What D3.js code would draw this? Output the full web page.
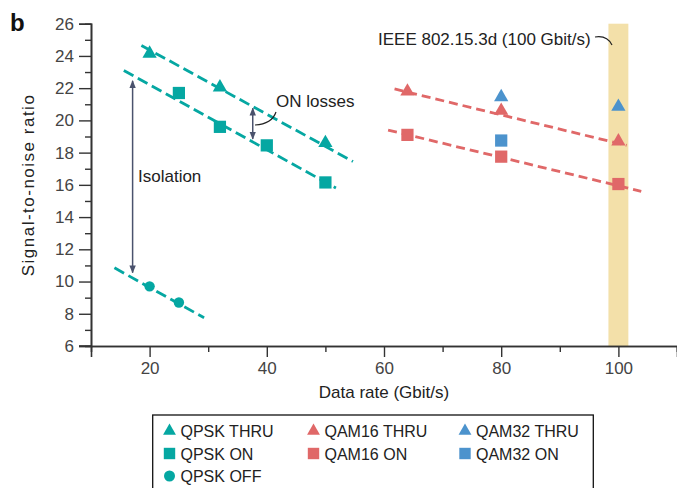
<!DOCTYPE html>
<html>
<head>
<meta charset="utf-8">
<script src="https://cdn.jsdelivr.net/npm/d3@7"></script>
<style>
  body { margin: 0; background: #fff; }
  svg { font-family: "Liberation Sans", Arial, sans-serif; }
</style>
</head>
<body>
<div id="chart"></div>
<script>
// measured values (Gbit/s, SNR)
var qpskThru = [[20, 24.15], [32, 22.05], [50, 18.6]];
var qpskOn = [[25, 21.7], [32, 19.6], [40, 18.45], [50, 16.15]];
var qpskOff = [[20, 9.7], [25, 8.7]];
var qam16Thru = [[64, 21.8], [80, 20.6], [100, 18.7]];
var qam16On = [[64, 19.1], [80, 17.75], [100, 16.05]];
var qam32Thru = [[80, 21.45], [100, 20.85]];
var qam32On = [[80, 18.75]];

// dashed trend lines, start and end
var qpskThruFit = [[18.6, 24.65], [54.7, 17.45]];
var qpskOnFit = [[15.6, 23.1], [51.8, 15.8]];
var qpskOffFit = [[14.0, 10.85], [29.3, 7.75]];
var qam16ThruFit = [[61.8, 21.95], [101.4, 18.45]];
var qam16OnFit = [[60.7, 19.4], [103.9, 15.6]];

var xTicks = [20, 40, 60, 80, 100];
var xMinor = [30, 50, 70, 90, 110];
var yTicks = [6, 8, 10, 12, 14, 16, 18, 20, 22, 24, 26];
var yMinor = [7, 9, 11, 13, 15, 17, 19, 21, 23, 25];

var band = [98.3, 101.7];
var isolation = [17.1, 22.45, 10.55];
var onLosses = [37.6, 20.75, 18.85];

var teal = "#05a7a2", red = "#e06868", blue = "#4c93cd";
var arrowCol = "#4a526d", axisCol = "#333";

var W = 677, H = 488;
var svg = d3.select("#chart").append("svg").attr("width", W).attr("height", H);

var x = d3.scaleLinear().domain([10, 110]).range([91, 677]);
var y = d3.scaleLinear().domain([6, 26]).range([346, 23.7]);

// highlight band for IEEE 802.15.3d
svg.append("rect")
  .attr("x", x(band[0])).attr("width", x(band[1]) - x(band[0]))
  .attr("y", y(26)).attr("height", y(6) - y(26))
  .attr("fill", "#f3e0a9");

// axes
var yAxis = d3.axisLeft(y).tickValues(yTicks).tickSize(12).tickPadding(5).tickFormat(d3.format("d"));
var gy = svg.append("g").attr("transform", "translate(91,0)").call(yAxis);
svg.append("g").attr("transform", "translate(91,0)")
  .call(d3.axisLeft(y).tickValues(yMinor).tickSize(6).tickFormat(""));

var xAxis = d3.axisBottom(x).tickValues(xTicks).tickSize(11).tickPadding(5).tickFormat(d3.format("d"));
var gx = svg.append("g").attr("transform", "translate(0,346)").call(xAxis);
svg.append("g").attr("transform", "translate(0,346)")
  .call(d3.axisBottom(x).tickValues(xMinor).tickSize(6).tickFormat(""));

svg.selectAll(".domain").attr("stroke", axisCol).attr("stroke-width", 1.6);
svg.selectAll(".tick line").attr("stroke", axisCol).attr("stroke-width", 1.4);
svg.selectAll(".tick text").attr("fill", "#444").style("font-size", "17px")
  .style("font-family", "'Liberation Sans', Arial, sans-serif");
// x axis line reaches over to the y tick at 6
svg.append("line").attr("x1", 79).attr("x2", 91).attr("y1", 346).attr("y2", 346)
  .attr("stroke", axisCol).attr("stroke-width", 1.6);

svg.append("text")
  .attr("transform", "translate(34,185) rotate(-90)")
  .attr("text-anchor", "middle")
  .attr("font-size", 17).attr("letter-spacing", 1.5).attr("fill", "#222")
  .text("Signal-to-noise ratio");
svg.append("text")
  .attr("x", 384).attr("y", 398).attr("text-anchor", "middle")
  .attr("font-size", 17).attr("fill", "#222")
  .text("Data rate (Gbit/s)");

svg.append("text").attr("x", 10).attr("y", 31)
  .attr("font-size", 24).attr("font-weight", "bold").attr("fill", "#111")
  .text("b");

// dashed fit lines
var line = d3.line().x(function (d) { return x(d[0]); }).y(function (d) { return y(d[1]); });
[qpskThruFit, qpskOnFit, qpskOffFit].forEach(function (f) {
  svg.append("path").attr("d", line(f)).attr("fill", "none")
    .attr("stroke", teal).attr("stroke-width", 2.8).attr("stroke-dasharray", "11,5");
});
[qam16ThruFit, qam16OnFit].forEach(function (f) {
  svg.append("path").attr("d", line(f)).attr("fill", "none")
    .attr("stroke", red).attr("stroke-width", 2.8).attr("stroke-dasharray", "9,5");
});

// markers
var triSym = d3.symbol().type(d3.symbolTriangle).size(88);
var sqSym = d3.symbol().type(d3.symbolSquare).size(150);
var cirSym = d3.symbol().type(d3.symbolCircle).size(85);

function markers(data, sym, col) {
  svg.append("g").selectAll("path").data(data).join("path")
    .attr("transform", function (d) { return "translate(" + x(d[0]) + "," + y(d[1]) + ")"; })
    .attr("d", sym).attr("fill", col);
}
markers(qpskThru, triSym, teal);
markers(qpskOn, sqSym, teal);
markers(qpskOff, cirSym, teal);
markers(qam16Thru, triSym, red);
markers(qam16On, sqSym, red);
markers(qam32Thru, triSym, blue);
markers(qam32On, sqSym, blue);

// double headed arrows
svg.append("defs").append("marker")
  .attr("id", "head").attr("viewBox", "0 0 10 10").attr("refX", 9).attr("refY", 5)
  .attr("markerWidth", 8).attr("markerHeight", 8).attr("markerUnits", "userSpaceOnUse")
  .attr("orient", "auto-start-reverse")
  .append("path").attr("d", "M0,1 L10,5 L0,9 Z").attr("fill", arrowCol);

[isolation, onLosses].forEach(function (a) {
  svg.append("line")
    .attr("x1", x(a[0])).attr("x2", x(a[0]))
    .attr("y1", y(a[1])).attr("y2", y(a[2]))
    .attr("stroke", arrowCol).attr("stroke-width", 1.5)
    .attr("marker-start", "url(#head)").attr("marker-end", "url(#head)");
});

// annotations
svg.append("text").attr("x", 138).attr("y", 182).attr("font-size", 17).attr("fill", "#222").text("Isolation");
svg.append("text").attr("x", 276).attr("y", 107).attr("font-size", 17).attr("fill", "#222").text("ON losses");
svg.append("path").attr("d", "M255,125 Q272,124 276,112")
  .attr("fill", "none").attr("stroke", "#222").attr("stroke-width", 1.2);

svg.append("text").attr("x", 378).attr("y", 45).attr("font-size", 17).attr("fill", "#222")
  .text("IEEE 802.15.3d (100 Gbit/s)");
svg.append("path").attr("d", "M595,37 Q607,35 612,45")
  .attr("fill", "none").attr("stroke", "#222").attr("stroke-width", 1.2);

// legend
var legendItems = [
  ["QPSK THRU", "tri", teal], ["QAM16 THRU", "tri", red], ["QAM32 THRU", "tri", blue],
  ["QPSK ON", "sq", teal], ["QAM16 ON", "sq", red], ["QAM32 ON", "sq", blue],
  ["QPSK OFF", "cir", teal]
];
var legSym = {
  tri: d3.symbol().type(d3.symbolTriangle).size(72),
  sq: d3.symbol().type(d3.symbolSquare).size(130),
  cir: d3.symbol().type(d3.symbolCircle).size(95)
};
var lg = svg.append("g");
lg.append("rect").attr("x", 152.7).attr("y", 415).attr("width", 440.6).attr("height", 90)
  .attr("fill", "none").attr("stroke", "#111").attr("stroke-width", 1.3);
var colX = [169.5, 313.5, 465];
var rowY = [431, 453.5, 476];
legendItems.forEach(function (it, i) {
  var cx = colX[i % 3], cy = rowY[Math.floor(i / 3)];
  lg.append("path").attr("transform", "translate(" + cx + "," + cy + ")")
    .attr("d", legSym[it[1]]).attr("fill", it[2]);
  lg.append("text").attr("x", cx + 11).attr("y", cy + 6)
    .attr("font-size", 16).attr("fill", "#222").text(it[0]);
});
</script>
</body>
</html>
